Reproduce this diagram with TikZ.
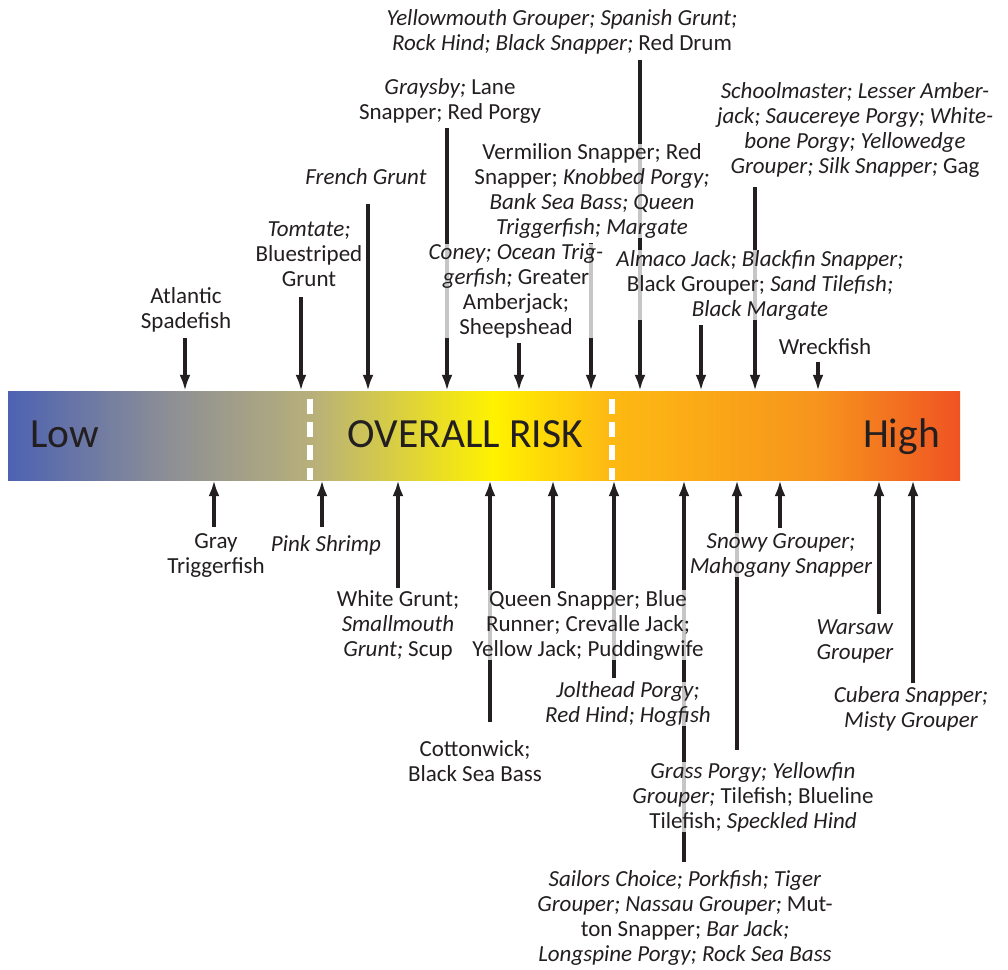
\documentclass[tikz,border=0pt]{standalone}
\usepackage{fontspec}
\setmainfont{Carlito}
\usetikzlibrary{arrows.meta,positioning}

\definecolor{ink}{HTML}{231F20}
\definecolor{riskblue}{HTML}{4D62B2}
\definecolor{riskgray}{HTML}{8A8D97}
\definecolor{riskolive}{HTML}{B8B07A}
\definecolor{riskyellow}{HTML}{FFF200}
\definecolor{riskamber}{HTML}{FDBA12}
\definecolor{riskorange}{HTML}{F7941D}
\definecolor{riskred}{HTML}{EF5323}

\pgfdeclarehorizontalshading{riskbar}{100bp}{color(0bp)=(riskblue); color(25bp)=(riskblue); color(33bp)=(riskgray); color(41bp)=(riskolive); color(50.5bp)=(riskyellow); color(56.5bp)=(riskamber); color(67.5bp)=(riskorange); color(75bp)=(riskred); color(100bp)=(riskred)}

\begin{document}
\begin{tikzpicture}[x=1pt,y=-1pt,
	% Bar and labels style
	bar/.style={shading=riskbar,minimum width=952pt,minimum height=89pt,inner sep=0pt},
	bartext/.style={font=\fontsize{41.5}{44}\selectfont,text=ink,inner sep=0pt},
	fish/.style={align=center,font=\fontsize{23}{25}\selectfont,text=ink,inner sep=0pt,fill=white,fill opacity=0.75,text opacity=1},
	%% Arrows and separators
	riskarrow/.style={draw=ink,line width=3.6pt,-{Latex[length=16pt,width=11pt]}},
	riskdash/.style={draw=white,line width=6pt,dash pattern=on 15pt off 8pt,dash phase=15pt}
	]
	\useasboundingbox (0,0) rectangle (1008,969);
	%% The risk bar
	\node (bar) [bar] at (484,435.5) {};
	\coordinate (s1) at (310,0);
	\coordinate (s2) at (612,0);
	\draw [riskdash] (bar.north -| s1) -- (bar.south -| s1);
	\draw [riskdash] (bar.north -| s2) -- (bar.south -| s2);
	\node (low) [bartext,anchor=base west] at (30,447) {Low};
	\node (mid) [bartext,anchor=base] at (465.5,447) {OVERALL RISK};
	\node (high) [bartext,anchor=base east] at (940,447) {High};
	%% Arrow ends above the bar
	\coordinate (a1) at (185,338);
	\coordinate (a2) at (301,297);
	\coordinate (a3) at (368,204);
	\coordinate (a4) at (447,128);
	\coordinate (a5) at (519,343);
	\coordinate (a6) at (591,243);
	\coordinate (a7) at (640,60);
	\coordinate (a8) at (701,325);
	\coordinate (a9) at (755,187);
	\coordinate (a10) at (818,362);
	\foreach \i in {1,...,10}
		\draw [riskarrow] (a\i) -- (a\i |- bar.north);
	%% Arrow ends below the bar
	\coordinate (b1) at (214,527);
	\coordinate (b2) at (322,527);
	\coordinate (b3) at (398,588);
	\coordinate (b4) at (490,722);
	\coordinate (b5) at (553,588);
	\coordinate (b6) at (614,678);
	\coordinate (b7) at (684,862);
	\coordinate (b8) at (737,750);
	\coordinate (b9) at (780,528);
	\coordinate (b10) at (879,614);
	\coordinate (b11) at (913,683);
	\foreach \i in {1,...,11}
		\draw [riskarrow] (b\i) -- (b\i |- bar.south);
	%% Species above the bar
	\node (u1) [fish] at (186,310) {Atlantic\\Spadefish};
	\node (u2) [fish] at (309,254) {\textit{Tomtate;}\\Bluestriped\\Grunt};
	\node (u3) [fish] at (366,177) {\textit{French Grunt}};
	\node (u4) [fish] at (450,101) {\textit{Graysby;} Lane\\Snapper; Red Porgy};
	\node (u5) [fish] at (516,291) {\textit{Coney; Ocean Trig-}\\\textit{gerfish;} Greater\\Amberjack;\\Sheepshead};
	\node (u6) [fish] at (592,191) {Vermilion Snapper; Red\\Snapper; \textit{Knobbed Porgy;}\\\textit{Bank Sea Bass; Queen}\\\textit{Triggerfish; Margate}};
	\node (u7) [fish] at (562,32) {\textit{Yellowmouth Grouper; Spanish Grunt;}\\\textit{Rock Hind; Black Snapper;} Red Drum};
	\node (u8) [fish] at (760,285) {\textit{Almaco Jack; Blackfin Snapper;}\\Black Grouper; \textit{Sand Tilefish;}\\\textit{Black Margate}};
	\node (u9) [fish] at (855,130) {\textit{Schoolmaster; Lesser Amber-}\\\textit{jack; Saucereye Porgy; White-}\\\textit{bone Porgy; Yellowedge}\\\textit{Grouper; Silk Snapper;} Gag};
	\node (u10) [fish] at (825,347) {Wreckfish};
	%% Species below the bar
	\node (d1) [fish] at (216,556) {Gray\\Triggerfish};
	\node (d2) [fish] at (326,545) {\textit{Pink Shrimp}};
	\node (d3) [fish] at (398,625) {White Grunt;\\\textit{Smallmouth}\\\textit{Grunt;} Scup};
	\node (d4) [fish] at (475,761) {Cottonwick;\\Black Sea Bass};
	\node (d5) [fish] at (588,625) {Queen Snapper; Blue\\Runner; Crevalle Jack;\\Yellow Jack; Puddingwife};
	\node (d6) [fish] at (628,704) {\textit{Jolthead Porgy;}\\\textit{Red Hind; Hogfish}};
	\node (d7) [fish] at (685,918) {\textit{Sailors Choice; Porkfish; Tiger}\\\textit{Grouper; Nassau Grouper;} Mut-\\ton Snapper; \textit{Bar Jack;}\\\textit{Longspine Porgy; Rock Sea Bass}};
	\node (d8) [fish] at (753,797) {\textit{Grass Porgy; Yellowfin}\\\textit{Grouper;} Tilefish; Blueline\\Tilefish; \textit{Speckled Hind}};
	\node (d9) [fish] at (781,555) {\textit{Snowy Grouper;}\\\textit{Mahogany Snapper}};
	\node (d10) [fish] at (855,641) {\textit{Warsaw}\\\textit{Grouper}};
	\node (d11) [fish] at (911,709) {\textit{Cubera Snapper;}\\\textit{Misty Grouper}};
\end{tikzpicture}
\end{document}
